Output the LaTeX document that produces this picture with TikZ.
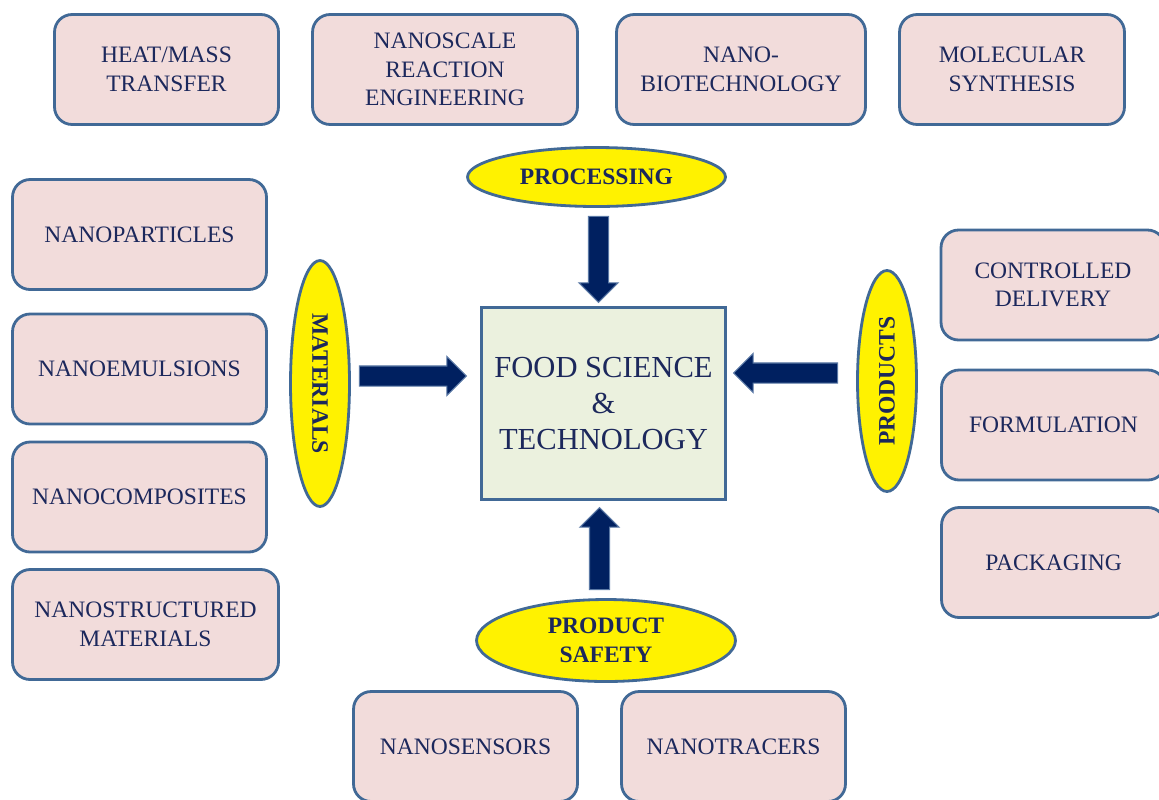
\documentclass[tikz,border=0pt]{standalone}
\usepackage{fontspec}
\setmainfont{Liberation Serif}
\usetikzlibrary{shapes.geometric, shapes.arrows, calc}
\definecolor{boxline}{RGB}{65,105,150}
\definecolor{boxfill}{RGB}{242,220,219}
\definecolor{navytext}{RGB}{28,40,92}
\definecolor{centerfill}{RGB}{235,241,222}
\definecolor{arrownavy}{RGB}{0,32,96}
\definecolor{arrowline}{RGB}{90,120,165}
\tikzset{
    nanobox/.style={draw=boxline, fill=boxfill, line width=1.6pt, rounded corners=10pt, text=navytext, align=center, font=\fontsize{13.4}{16.2}\selectfont, minimum width=4.48cm, minimum height=2.2cm, inner sep=2pt},
    areaoval/.style={ellipse, draw=boxline, fill=yellow, line width=1.6pt, text=navytext, align=center, font=\fontsize{13.4}{16.4}\selectfont\bfseries, inner sep=0pt, minimum width=5.16cm, minimum height=1.18cm},
    blockarrow/.style={single arrow, fill=arrownavy, draw=arrowline, line width=0.6pt, inner xsep=0pt, inner ysep=0.19cm, single arrow head extend=0.19cm, minimum height=1.72cm}
}

\begin{document}
\begin{tikzpicture}[x=0.02cm, y=-0.02cm]
    \clip (0,0) rectangle (1159,799);
    \node[draw=boxline, fill=centerfill, line width=1.6pt, text=navytext, align=center, font=\fontsize{17.4}{20.6}\selectfont, minimum width=4.88cm, minimum height=3.84cm](food) at (603.5,403.5){FOOD SCIENCE\\\&\\TECHNOLOGY};

    \node[nanobox](heat) at (166.5,69.5){HEAT/MASS\\TRANSFER};
    \node[nanobox, minimum width=5.30cm](reaction) at (445,69.5){NANOSCALE\\REACTION\\ENGINEERING};
    \node[nanobox, minimum width=4.98cm](biotech) at (741,69.5){NANO-\\BIOTECHNOLOGY};
    \node[nanobox, minimum width=4.50cm](molsyn) at (1012,69.5){MOLECULAR\\SYNTHESIS};

    \node[nanobox, minimum width=5.08cm](particles) at (139.5,234.5){NANOPARTICLES};
    \node[nanobox, minimum width=5.08cm](emulsions) at (139.5,369){NANOEMULSIONS};
    \node[nanobox, minimum width=5.08cm](composites) at (139.5,497){NANOCOMPOSITES};
    \node[nanobox, minimum width=5.32cm](structured) at (145.5,624.5){NANOSTRUCTURED\\MATERIALS};

    \node[nanobox](delivery) at (1053,285){CONTROLLED\\DELIVERY};
    \node[nanobox](formulation) at (1053.5,425){FORMULATION};
    \node[nanobox](packaging) at (1053.5,562.5){PACKAGING};

    \node[nanobox](sensors) at (465.5,746.5){NANOSENSORS};
    \node[nanobox](tracers) at (733.5,746.5){NANOTRACERS};

    \node[areaoval](processing) at (596.5,177){PROCESSING};
    \node[areaoval, rotate=-90, minimum width=4.92cm](materials) at (320,383.5){MATERIALS};
    \node[areaoval, rotate=90, minimum width=4.42cm](products) at (887,381){PRODUCTS};
    \node[areaoval, minimum width=5.18cm, minimum height=1.64cm](safety) at (606,640.5){PRODUCT\\SAFETY};

    \node[blockarrow, rotate=-90, anchor=tip](downarrow) at ($(food.north)+(-5,-3)$){};
    \node[blockarrow, rotate=90, anchor=tip, minimum height=1.64cm](uparrow) at ($(food.south)+(-4,6)$){};
    \node[blockarrow, anchor=tip, minimum height=2.14cm](rightarrow) at ($(food.west)+(-13,-27.5)$){};
    \node[blockarrow, rotate=180, anchor=tip, minimum height=2.08cm](leftarrow) at ($(food.east)+(6,-30.5)$){};
\end{tikzpicture}
\end{document}
